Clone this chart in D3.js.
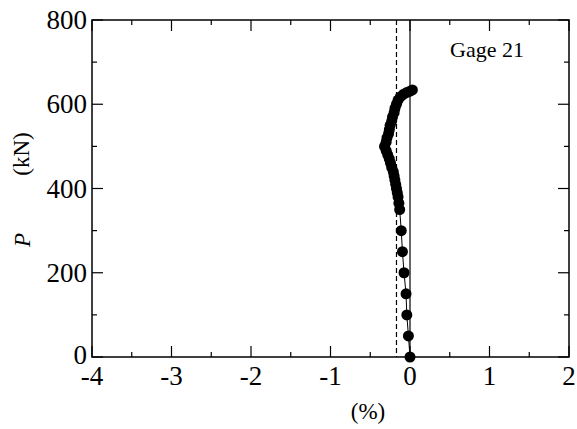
<!DOCTYPE html>
<html><head><meta charset="utf-8">
<script src="https://cdn.jsdelivr.net/npm/d3@7"></script>
<style>body{margin:0;background:#fff}svg{display:block}text{font-family:"Liberation Serif","Times New Roman",serif;fill:#000}</style>
</head><body>
<svg id="c" width="577" height="429"></svg>
<script>
const loadP = [0,50,100,150,200,250,300,350,365,380,390,400,410,420,430,440,450,460,470,480,490,500,510,520,530,540,550,560,570,580,590,600,610,618,624,628,631,634];
const strain = [0,-0.02,-0.04,-0.05,-0.075,-0.095,-0.11,-0.13,-0.14,-0.15,-0.16,-0.17,-0.18,-0.19,-0.2,-0.21,-0.23,-0.245,-0.26,-0.28,-0.3,-0.32,-0.3,-0.29,-0.27,-0.26,-0.25,-0.23,-0.22,-0.2,-0.19,-0.17,-0.15,-0.12,-0.08,-0.04,0.0,0.03];
const xTicks = [-4,-3,-2,-1,0,1,2];
const yTicks = [0,200,400,600,800];
const dashedRef = -0.17;
const gageLabel = "Gage 21";

const svg = d3.select("#c");
const L=92,R=569,T=20,B=357;
const x = d3.scaleLinear().domain([-4,2]).range([L,R]);
const y = d3.scaleLinear().domain([0,800]).range([B,T]);

const minorX = d3.range(-4,2.01,0.5), minorY = d3.range(0,801,100);
const g = svg.append("g");
g.append("rect").attr("x",L).attr("y",T).attr("width",R-L).attr("height",B-T)
 .attr("fill","none").attr("stroke","#000").attr("stroke-width",1.5);
minorX.forEach(v=>{
  const major = Math.abs(v-Math.round(v))<1e-9;
  const len = major?11:5;
  g.append("line").attr("x1",x(v)).attr("x2",x(v)).attr("y1",B).attr("y2",B-len).attr("stroke","#000").attr("stroke-width",1.2);
  g.append("line").attr("x1",x(v)).attr("x2",x(v)).attr("y1",T).attr("y2",T+len).attr("stroke","#000").attr("stroke-width",1.2);
});
minorY.forEach(v=>{
  const major = v%200===0;
  const len = major?11:5;
  g.append("line").attr("y1",y(v)).attr("y2",y(v)).attr("x1",L).attr("x2",L+len).attr("stroke","#000").attr("stroke-width",1.2);
  g.append("line").attr("y1",y(v)).attr("y2",y(v)).attr("x1",R).attr("x2",R-len).attr("stroke","#000").attr("stroke-width",1.2);
});
xTicks.forEach(v=>{
  g.append("text").attr("x",x(v)).attr("y",385).attr("text-anchor","middle")
   .attr("font-size",27).text(v);
});
yTicks.forEach(v=>{
  g.append("text").attr("x",87).attr("y",y(v)+ (v===0?7:9)).attr("text-anchor","end")
   .attr("font-size",27).text(v);
});
g.append("text").attr("x",368).attr("y",419).attr("text-anchor","middle").attr("font-size",23).text("(%)");
g.append("text").attr("transform","translate(30,240) rotate(-90)").attr("text-anchor","middle")
 .attr("font-size",23).attr("font-style","italic").text("P");
g.append("text").attr("transform","translate(29,154) rotate(-90)").attr("text-anchor","middle")
 .attr("font-size",23).text("(kN)");
g.append("text").attr("x",450).attr("y",57).attr("font-size",22).text(gageLabel);

g.append("line").attr("x1",x(0)).attr("x2",x(0)).attr("y1",T).attr("y2",B).attr("stroke","#000").attr("stroke-width",1.2);
g.append("line").attr("x1",x(dashedRef)).attr("x2",x(dashedRef)).attr("y1",T).attr("y2",B)
 .attr("stroke","#000").attr("stroke-width",1.2).attr("stroke-dasharray","5,3");

const pts = loadP.map((p,i)=>[strain[i],p]);
g.append("path").datum(pts).attr("fill","none").attr("stroke","#000").attr("stroke-width",1)
 .attr("d",d3.line().x(d=>x(d[0])).y(d=>y(d[1])));
g.selectAll("circle.pt").data(pts).enter().append("circle").attr("class","pt")
 .attr("cx",d=>x(d[0])).attr("cy",d=>y(d[1])).attr("r",5.5).attr("fill","#000");
</script>
</body></html>
